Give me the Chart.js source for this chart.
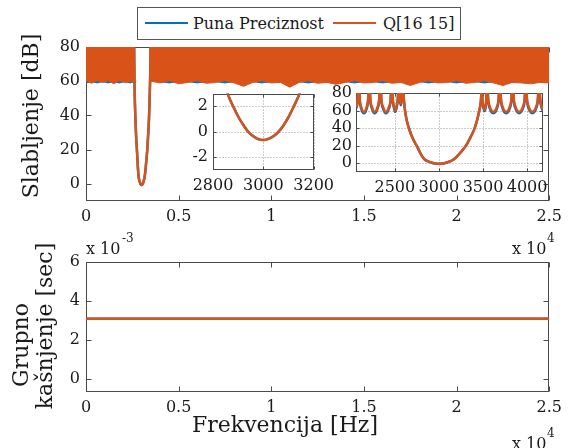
<!DOCTYPE html>
<html>
<head>
<meta charset="utf-8">
<script src="https://cdn.jsdelivr.net/npm/chart.js@4"></script>
<style>
  body { margin: 0; background: #fff; width: 568px; height: 448px; overflow: hidden; position: relative;
         font-family: "DejaVu Serif", serif; color: #1a1a1a; }
  canvas, .txt { position: absolute; }
  .txt { white-space: nowrap; }
  .rot { transform: translate(-50%, -50%) rotate(-90deg); font-size: 22px; line-height: 22px; }
  .exp { font-size: 16px; line-height: 16px; }
  .sup { font-size: 12px; line-height: 12px; }
  #legend { left: 137px; top: 7px; width: 322px; height: 31px; border: 1px solid #555; background: #fff; }
  #legend .sw { position: absolute; height: 2px; top: 14px; width: 43px; }
  #legend .lb { position: absolute; top: 8px; font-size: 16px; line-height: 16px; }
</style>
</head>
<body>
<canvas id="mainChart" width="568" height="230" style="left:0;top:0"></canvas>
<canvas id="zoomNarrow" width="180" height="121" style="left:160px;top:79px"></canvas>
<canvas id="zoomWide" width="248" height="121" style="left:320px;top:79px"></canvas>
<canvas id="delayChart" width="568" height="218" style="left:0;top:230px"></canvas>

<div id="legend" class="txt">
  <div class="sw" style="left:7px;background:#0072BD"></div>
  <div class="lb" style="left:55px">Puna Preciznost</div>
  <div class="sw" style="left:195px;background:#D95319"></div>
  <div class="lb" style="left:245px">Q[16 15]</div>
</div>

<div class="txt rot" style="left:30.5px;top:116px">Slabljenje [dB]</div>
<div class="txt rot" style="left:21px;top:345px">Grupno</div>
<div class="txt rot" style="left:45px;top:326px">kašnjenje [sec]</div>
<div class="txt" style="left:285px;top:425px;transform:translate(-50%,-50%);font-size:22px;line-height:22px">Frekvencija [Hz]</div>

<div class="txt exp" style="left:86px;top:241px">x 10</div>
<div class="txt sup" style="left:122px;top:232px">-3</div>
<div class="txt exp" style="left:512px;top:241px">x 10</div>
<div class="txt sup" style="left:547px;top:232px">4</div>
<div class="txt exp" style="left:512px;top:436px">x 10</div>
<div class="txt sup" style="left:547px;top:427px">4</div>

<script>
// ---- data (Hz, dB, seconds) ----
const freqTicks = [0, 5000, 10000, 15000, 20000, 25000];

// stopband lower edge, left of the passband
const bandLeftFreq = [0, 300, 600, 900, 1200, 1500, 1800, 2100, 2400, 2560, 2594];
const bandLeftQ    = [60.3, 58.8, 60.3, 59.3, 60.3, 58.5, 60.3, 59.3, 60, 59, 85];
const bandLeftFull = [59, 59.8, 59, 59.8, 59, 59.8, 59, 59.8, 59, 59.8, 85];

// stopband lower edge, right of the passband
const bandRightFreq = [3485, 3520, 4000, 4500, 5000, 5500, 6000, 6500, 7000, 7500, 8000, 8500, 9000, 9500,
  10000, 10500, 11000, 11500, 12000, 12500, 13000, 13500, 14000, 14500, 15000, 15500, 16000, 16500, 17000,
  17500, 18000, 18500, 19000, 19500, 20000, 20500, 21000, 21500, 22000, 22500, 23000, 23500, 24000, 24500, 25000];
const bandRightQ = [85, 60, 59, 60.3, 58.5, 59.3, 60.3, 58.8, 59.3, 60.3, 59, 57, 59.3, 60.3, 59, 59.3,
  56.5, 59.3, 60.3, 58.8, 59.3, 58.2, 59.3, 60.3, 59, 59.3, 60.3, 58.8, 59.3, 57.5, 59.3, 60.3, 59, 59.3, 60.3,
  58.8, 59.3, 60.3, 59, 57.5, 59.3, 59, 58.5, 59.3, 59];
const bandRightFull = [85, 60, 59.8, 59, 59.8, 59.8, 59, 59.8, 59.8, 59, 59.8, 59.8, 59.8, 59, 59.8, 59.8,
  59.8, 59.8, 59, 59.8, 59.8, 59.8, 59.8, 59, 59.8, 59.8, 59, 59.8, 59.8, 59.8, 59.8, 59, 59.8, 59.8, 59,
  59.8, 59.8, 59, 59.8, 59.8, 59.8, 59.8, 59.8, 59.8, 59.8];

// passband around 3 kHz (both versions overlap here)
const notchFreq = [2594, 2605, 2620, 2640, 2663, 2700, 2730, 2758, 2780, 2800, 2820, 2840, 2860, 2880, 2900,
  2920, 2940, 2960, 2980, 3000, 3020, 3040, 3060, 3080, 3100, 3120, 3140, 3160, 3180, 3200, 3230, 3260, 3307,
  3350, 3398, 3430, 3458, 3475, 3485];
const notchQ = [85, 70, 57, 47, 39, 29, 23, 18, 13.5, 9.5, 6.5, 4.3, 2.9, 2.0, 1.2, 0.55, 0.0, -0.35, -0.57,
  -0.65, -0.55, -0.35, 0.0, 0.5, 1.15, 1.95, 2.8, 3.9, 5.3, 7.2, 10.5, 14, 20, 28, 38, 48, 60, 70, 85];
const notchFull = notchQ;

// stopband lobes seen in the wide zoom
const lobeLeftFreq = [2060, 2078, 2090, 2102, 2120, 2150, 2180, 2198, 2210, 2222, 2242, 2272, 2303, 2323, 2335,
  2347, 2368, 2400, 2432, 2453, 2465, 2475, 2490, 2505, 2520, 2535, 2545, 2555, 2568, 2582, 2594];
const lobeLeftQ = [64, 72, 100, 74, 64, 58.5, 64, 74, 100, 74, 64, 58.5, 64, 74, 100, 74, 64, 58.5, 64, 74,
  100, 76, 65, 60, 65, 76, 100, 76, 68, 76, 100];
const lobeLeftFull = [62, 70, 100, 72, 62, 57, 62, 72, 100, 72, 62, 57, 62, 72, 100, 72, 62, 57, 62, 72,
  100, 74, 63, 58.5, 63, 74, 100, 74, 66, 74, 100];
const lobeRightFreq = [3485, 3492, 3505, 3518, 3530, 3538, 3545, 3557, 3575, 3617, 3660, 3678, 3690, 3702, 3720,
  3762, 3805, 3823, 3835, 3847, 3866, 3910, 3954, 3973, 3985, 3997, 4016, 4060, 4104, 4123, 4135, 4147, 4165, 4180];
const lobeRightQ = [100, 75, 65, 61, 66, 76, 100, 75, 65, 58.5, 65, 75, 100, 75, 65, 58.5, 65, 75, 100, 75,
  65, 58.5, 65, 75, 100, 75, 65, 58.5, 65, 75, 100, 75, 65, 61];
const lobeRightFull = [100, 73, 63, 59.5, 64, 74, 100, 73, 63, 57, 63, 73, 100, 73, 63, 57, 63, 73, 100, 73,
  63, 57, 63, 73, 100, 73, 63, 57, 63, 73, 100, 73, 63, 59.5];

// group delay
const delayFreq = [0, 5000, 10000, 15000, 20000, 25000];
const delayFull = [0.0031, 0.0031, 0.0031, 0.0031, 0.0031, 0.0031];
const delayQ    = [0.0031, 0.0031, 0.0031, 0.0031, 0.0031, 0.0031];

const BLUE = '#0072BD';
const ORANGE = '#D95319';

Chart.defaults.font.family = '"DejaVu Serif", serif';
Chart.defaults.font.size = 16;
Chart.defaults.color = '#1a1a1a';

// matlab style box: white plot area, dotted grid, inward ticks
const axesBox = {
  id: 'axesBox',
  beforeDraw(chart) {
    const {ctx, chartArea: a} = chart;
    ctx.save();
    ctx.fillStyle = '#fff';
    ctx.fillRect(a.left, a.top, a.right - a.left, a.bottom - a.top);
    ctx.restore();
  },
  beforeDatasetsDraw(chart, args, opts) {
    const {ctx, chartArea: a, scales: {x, y}} = chart;
    const L = Math.round(a.left) + 0.5, R = Math.round(a.right) - 0.5;
    const T = Math.round(a.top) + 0.5, B = Math.round(a.bottom) - 0.5;
    const xp = t => Math.round(x.getPixelForValue(t.value)) + 0.5;
    const yp = t => Math.round(y.getPixelForValue(t.value)) + 0.5;
    ctx.save();
    ctx.lineWidth = 1;
    if (opts.grid) {
      ctx.strokeStyle = 'rgba(0,0,0,0.4)';
      ctx.setLineDash([1, 2]);
      ctx.beginPath();
      x.ticks.forEach(t => { ctx.moveTo(xp(t), T); ctx.lineTo(xp(t), B); });
      y.ticks.forEach(t => { ctx.moveTo(L, yp(t)); ctx.lineTo(R, yp(t)); });
      ctx.stroke();
      ctx.setLineDash([]);
    }
    ctx.strokeStyle = '#4a4a4a';
    ctx.strokeRect(L, T, R - L, B - T);
    const k = opts.tick;
    ctx.beginPath();
    x.ticks.forEach(t => {
      ctx.moveTo(xp(t), B); ctx.lineTo(xp(t), B - k);
      ctx.moveTo(xp(t), T); ctx.lineTo(xp(t), T + k);
    });
    y.ticks.forEach(t => {
      ctx.moveTo(L, yp(t)); ctx.lineTo(L + k, yp(t));
      ctx.moveTo(R, yp(t)); ctx.lineTo(R - k, yp(t));
    });
    ctx.stroke();
    ctx.restore();
  }
};

function pts(xs, ys) {
  return xs.map((x, i) => ({x: x, y: ys[i]}));
}

function band(xs, ys, color) {
  return {data: pts(xs, ys), borderColor: color, backgroundColor: color, borderWidth: 1,
          fill: 'end', pointRadius: 0, tension: 0};
}

function curve(xs, ys, color) {
  return {data: pts(xs, ys), borderColor: color, borderWidth: 2.5, fill: false,
          pointRadius: 0, cubicInterpolationMode: 'monotone'};
}

function axis(min, max, ticks, size, pad, fmt, horizontal) {
  return {
    type: 'linear', min: min, max: max,
    grid: {display: false, drawTicks: false},
    border: {display: false},
    ticks: {padding: pad, autoSkip: false, maxRotation: 0, minRotation: 0, callback: fmt},
    afterBuildTicks: s => { s.ticks = ticks.map(v => ({value: v})); },
    afterFit: s => { if (horizontal) s.height = size; else s.width = size; }
  };
}

function makeChart(id, datasets, xAxis, yAxis, padding, box) {
  return new Chart(document.getElementById(id), {
    type: 'line',
    data: {datasets: datasets},
    options: {
      responsive: false,
      animation: false,
      events: [],
      layout: {padding: padding},
      scales: {x: xAxis, y: yAxis},
      plugins: {legend: {display: false}, tooltip: {enabled: false}, axesBox: box}
    },
    plugins: [axesBox]
  });
}

const hz = v => v / 10000;
const plain = v => v;

// top: attenuation over the full band
makeChart('mainChart', [
  band(bandLeftFreq, bandLeftQ, ORANGE),
  band(bandRightFreq, bandRightQ, ORANGE),
  curve(notchFreq, notchQ, ORANGE),
  band(bandLeftFreq, bandLeftFull, BLUE),
  band(bandRightFreq, bandRightFull, BLUE),
  curve(notchFreq, notchFull, BLUE)
], axis(0, 25000, freqTicks, 29, 6, hz, true),
   axis(-10, 80, [0, 20, 40, 60, 80], 86, 6, plain, false),
   {top: 47, right: 16, left: 0, bottom: 0}, {grid: false, tick: 5});

// inset: passband detail
makeChart('zoomNarrow', [
  curve(notchFreq, notchQ, ORANGE),
  curve(notchFreq, notchFull, BLUE)
], axis(2800, 3200, [2800, 3000, 3200], 30, 6, plain, true),
   axis(-3, 3, [-2, 0, 2], 53, 5, plain, false),
   {top: 14, right: 24, left: 0, bottom: 0}, {grid: true, tick: 3});

// inset: transition bands
makeChart('zoomWide', [
  curve(lobeLeftFreq, lobeLeftQ, ORANGE),
  curve(notchFreq, notchQ, ORANGE),
  curve(lobeRightFreq, lobeRightQ, ORANGE),
  curve(lobeLeftFreq, lobeLeftFull, BLUE),
  curve(notchFreq, notchFull, BLUE),
  curve(lobeRightFreq, lobeRightFull, BLUE)
], axis(2060, 4180, [2500, 3000, 3500, 4000], 28, 6, plain, true),
   axis(-10, 80, [0, 20, 40, 60, 80], 36, 4, plain, false),
   {top: 14, right: 25, left: 0, bottom: 0}, {grid: true, tick: 3});

// bottom: group delay
makeChart('delayChart', [
  curve(delayFreq, delayQ, ORANGE),
  curve(delayFreq, delayFull, BLUE)
], axis(0, 25000, freqTicks, 56, 6, hz, true),
   axis(-0.00065, 0.006, [0, 0.002, 0.004, 0.006], 86, 6, v => Math.round(v * 1000), false),
   {top: 32, right: 16, left: 0, bottom: 0}, {grid: false, tick: 5});
</script>
</body>
</html>
